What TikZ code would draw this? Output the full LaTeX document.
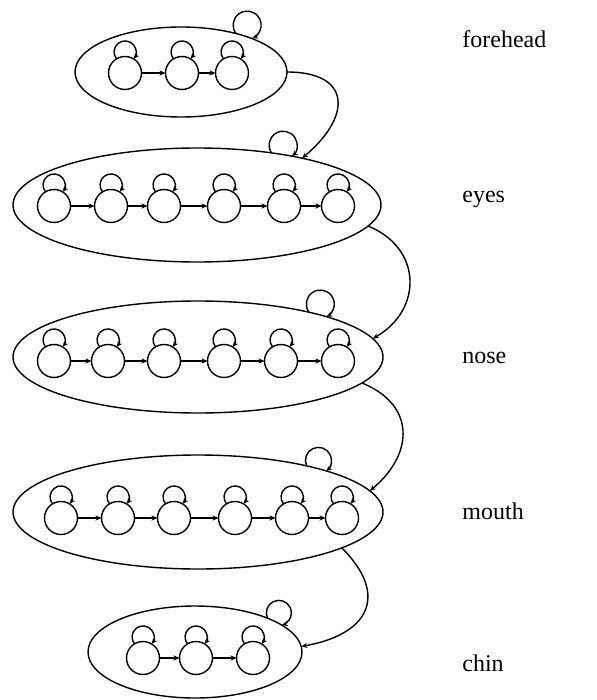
\documentclass[tikz,border=0pt]{standalone}
\usepackage{fontspec}
\setmainfont{Liberation Serif}
\usetikzlibrary{arrows.meta,shapes.geometric}
\tikzset{
  stateNode/.style={circle, draw, line width=0.7pt, minimum size=16.5pt, inner sep=0pt, outer sep=0pt},
  groupNode/.style={ellipse, draw, line width=0.7pt, inner sep=0pt, outer sep=0pt},
  chainArrow/.style={-{Stealth[length=3pt,width=2.6pt]}, line width=0.7pt},
  regionLabel/.style={anchor=base west, inner sep=0pt, font=\fontsize{12}{14}\selectfont}
}

\begin{document}
\begin{tikzpicture}[x=0.5pt,y=-0.5pt]
  \useasboundingbox (0,0) rectangle (596,700);
  % face regions
  \node[groupNode, minimum width=106pt, minimum height=45pt] (F) at (181,72) {};
  \node[groupNode, minimum width=184pt, minimum height=57pt] (E) at (197,205) {};
  \node[groupNode, minimum width=185pt, minimum height=56pt] (N) at (198,357) {};
  \node[groupNode, minimum width=185pt, minimum height=57pt] (M) at (198,512) {};
  \node[groupNode, minimum width=107pt, minimum height=46pt] (C) at (195,652) {};
  % states inside each region
  \foreach \x [count=\i] in {125,182,232} \node[stateNode] (f\i) at (\x,73) {};
  \foreach \x [count=\i] in {54,111,164,224,284,338} \node[stateNode] (e\i) at (\x,206) {};
  \foreach \x [count=\i] in {54,108,164,224,281,338} \node[stateNode] (n\i) at (\x,361) {};
  \foreach \x [count=\i] in {61,118,174,235,292,342} \node[stateNode] (m\i) at (\x,518) {};
  \foreach \x [count=\i] in {143,196,253} \node[stateNode] (c\i) at (\x,658) {};
  % self loops and left-to-right chains
  \foreach \g/\last in {f/3,e/6,n/6,m/6,c/3}{
    \foreach \i in {1,...,\last}
      \draw[chainArrow] (\g\i.121) arc[start angle=219, end angle=-39, radius=5.5pt];
    \foreach \i [remember=\i as \p (initially 1)] in {2,...,\last}
      \draw[chainArrow] (\g\p) -- (\g\i);
  }
  % region self loops
  \draw[chainArrow] (F.35.6) arc[start angle=217, end angle=-69, radius=7pt];
  \draw[chainArrow] (E.35.5) arc[start angle=213.3, end angle=-51.5, radius=7pt];
  \draw[chainArrow] (N.22.1) arc[start angle=215.4, end angle=-64.2, radius=7pt];
  \draw[chainArrow] (M.23.4) arc[start angle=205.2, end angle=-53.4, radius=6.5pt];
  \draw[chainArrow] (C.25.5) arc[start angle=205.3, end angle=-76.1, radius=6.25pt];
  % region to region
  \draw[chainArrow] (F.0) to[out=0, in=40, looseness=1.9] (E.24);
  \draw[chainArrow] (E.-7.8) to[out=-22, in=30, looseness=1.32] (N.6.2);
  \draw[chainArrow] (N.-9) to[out=-22, in=40, looseness=1.37] (M.7.6);
  \draw[chainArrow] (M.-14) to[out=-45, in=10, looseness=1.63] (C.3);
  % labels
  \node[regionLabel] (lF) at (462,48) {forehead};
  \node[regionLabel] (lE) at (462,202) {eyes};
  \node[regionLabel] (lN) at (462,363) {nose};
  \node[regionLabel] (lM) at (462,519) {mouth};
  \node[regionLabel] (lC) at (462,671) {chin};
\end{tikzpicture}
\end{document}
